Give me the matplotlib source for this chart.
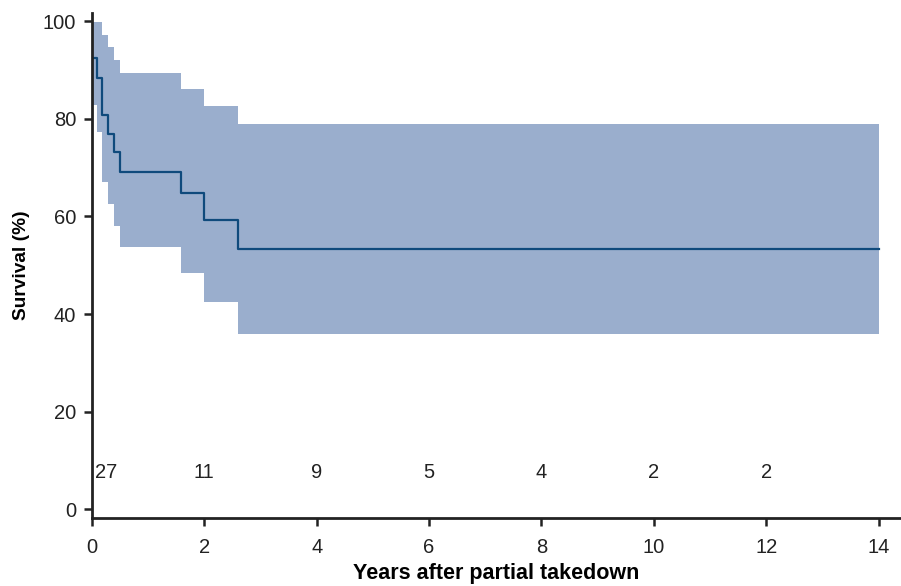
import matplotlib
matplotlib.use("Agg")
import matplotlib.pyplot as plt
import numpy as np

plt.rcParams['font.family'] = ['Liberation Sans', 'DejaVu Sans']

# Kaplan-Meier estimate (step times in years, values in %)
times = [0, 0.083, 0.18, 0.29, 0.39, 0.49, 1.59, 1.99, 2.59, 14]
surv = [92.4, 88.4, 80.7, 76.9, 73.1, 69.2, 64.8, 59.3, 53.4, 53.4]
upper = [99.8, 99.8, 97.1, 94.7, 92.0, 89.3, 86.1, 82.7, 79.0, 79.0]
lower = [82.9, 77.3, 67.1, 62.5, 58.0, 53.8, 48.5, 42.4, 36.0, 36.0]

# numbers at risk
risk_x = [0.26, 2, 4, 6, 8, 10, 12]
risk_n = [27, 11, 9, 5, 4, 2, 2]
risk_y = 7.6

fig = plt.figure(figsize=(9.01, 5.86), dpi=100)
ax = fig.add_axes([0.1021, 0.116, 0.8979, 0.862])

ax.fill_between(times, lower, upper, step='post', color='#9aaecd', linewidth=0)
ax.step(times, surv, where='post', color='#0f4a7c', linewidth=1.6)

for x, n in zip(risk_x, risk_n):
    ax.text(x, risk_y, str(n), ha='center', va='center', fontsize=14.5, color='#222222')

ax.set_xlim(0, 14.4)
ax.set_ylim(-1.8, 101.7)
ax.set_xticks(np.arange(0, 15, 2))
ax.set_yticks(np.arange(0, 101, 20))

for s in ['top', 'right']:
    ax.spines[s].set_visible(False)
for s in ['left', 'bottom']:
    ax.spines[s].set_linewidth(2)
    ax.spines[s].set_color('#222222')
ax.tick_params(axis='both', direction='out', length=5.5, width=1.8, color='#222222',
               labelsize=14.5, labelcolor='#222222')
ax.tick_params(axis='x', pad=9)
ax.tick_params(axis='y', pad=6)

ax.set_xlabel('Years after partial takedown', fontsize=15.5, fontweight='bold', labelpad=4)
ax.set_ylabel('Survival (%)', fontsize=13.8, fontweight='bold', labelpad=9)

fig.savefig('out.png', dpi=100)
